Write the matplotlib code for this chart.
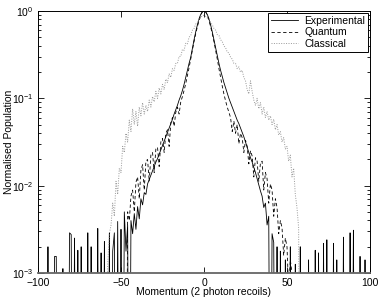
import numpy as np
import matplotlib
matplotlib.use("Agg")
import matplotlib.pyplot as plt

plt.rcParams['font.family'] = ['Liberation Sans', 'DejaVu Sans']
plt.rcParams['mathtext.fontset'] = 'custom'
plt.rcParams['mathtext.rm'] = 'Liberation Sans'
plt.rcParams['mathtext.it'] = 'Liberation Sans'

# ---------------- data (log10 of normalised population; -6 = empty bin) ----------------
Z = -6
exp_momentum = list(range(-100, 101))
exp_log_left_tail = [  # -100 .. -51
    Z, Z, Z, Z, Z, Z, -2.70, Z, Z, Z,
    -2.81, -2.81, Z, Z, Z, -2.95, Z, Z, Z, -2.54,
    -2.56, Z, -2.60, Z, -2.74, Z, -2.70, Z, Z, Z,
    -2.54, Z, -2.70, Z, Z, Z, -2.49, Z, -2.77, Z,
    -2.64, Z, Z, -2.54, Z, -2.75, -2.54, Z, -2.41, Z]
exp_log_left = [  # -50 .. -1
    -2.50, Z, -2.30, -2.75, -2.45, Z, -2.40, -2.55, -2.32, -2.50,
    -2.24, -2.38, -2.15, -2.22, -2.08, -2.10, -1.98, -1.93, -1.88, -1.83,
    -1.78, -1.73, -1.69, -1.64, -1.59, -1.54, -1.49, -1.44, -1.39, -1.34,
    -1.29, -1.24, -1.18, -1.13, -1.08, -1.02, -0.97, -0.91, -0.84, -0.76,
    -0.68, -0.60, -0.53, -0.43, -0.33, -0.24, -0.16, -0.09, -0.04, -0.01]
exp_log_centre = [0.0]
exp_log_right = [  # 1 .. 50
    -0.01, -0.04, -0.09, -0.16, -0.24, -0.33, -0.42, -0.51, -0.60, -0.68,
    -0.75, -0.82, -0.88, -0.94, -1.00, -1.05, -1.10, -1.15, -1.20, -1.25,
    -1.29, -1.34, -1.39, -1.44, -1.50, -1.56, -1.62, -1.68, -1.73, -1.79,
    -1.85, -1.92, -1.99, -2.06, -2.12, -2.25, -2.20, -2.45, -2.35, Z,
    -2.55, -2.65, Z, -2.70, Z, -2.75, Z, Z, -2.85, Z]
exp_log_right_tail = [  # 51 .. 100
    Z, -2.70, Z, Z, -2.90, Z, Z, -2.70, Z, Z,
    Z, Z, -2.85, Z, Z, Z, -2.74, Z, -2.77, Z,
    Z, -2.66, Z, -2.62, Z, Z, Z, -2.66, Z, -2.85,
    Z, Z, Z, -2.59, Z, Z, Z, -2.54, Z, -2.51,
    Z, Z, Z, -2.81, Z, Z, -2.85, Z, Z, Z]
exp_log = exp_log_left_tail + exp_log_left + exp_log_centre + exp_log_right + exp_log_right_tail

quant_momentum = list(range(-50, 57))
quant_log = [
    Z, Z, Z, Z, -2.30, -2.40, -2.12, -2.05, -2.30, -1.96,   # -50..-41
    -1.90, -2.15, -1.82, -1.76, -2.05, -1.72, -1.70, -1.95, -1.65, -1.62,  # -40..-31
    -1.85, -1.58, -1.56, -1.78, -1.50, -1.46, -1.62, -1.40, -1.36, -1.55,  # -30..-21
    -1.28, -1.22, -1.32, -1.16, -1.10, -1.18, -1.04, -0.98, -0.91, -0.83,  # -20..-11
    -0.74, -0.65, -0.55, -0.45, -0.35, -0.26, -0.18, -0.11, -0.05, -0.01,  # -10..-1
    0.0,                                                                    # 0
    -0.01, -0.05, -0.11, -0.18, -0.26, -0.35, -0.45, -0.55, -0.66, -0.76,  # 1..10
    -0.86, -0.95, -1.03, -1.10, -1.16, -1.22, -1.38, -1.26, -1.40, -1.30,  # 11..20
    -1.52, -1.40, -1.45, -1.62, -1.48, -1.55, -1.75, -1.60, -1.66, -1.90,  # 21..30
    -1.68, -1.72, -1.95, -1.74, -1.72, -2.05, -1.85, -1.92, -2.20, -1.98,  # 31..40
    -2.05, -2.35, -2.15, -2.25, -2.55, -2.40, -2.48, -2.80, -2.60, -2.70,  # 41..50
    -3.20, -2.85, -3.00, Z, Z, Z]                                           # 51..56

class_momentum = list(range(-60, 61))
class_log = [
    Z, Z, -2.90, -2.55, -2.45, -2.20, -2.35, -1.95, -2.10, -1.80,   # -60..-51
    -1.85, -1.55, -1.62, -1.40, -1.50, -1.25, -1.38, -1.12, -1.30, -1.15,  # -50..-41
    -1.32, -1.10, -1.20, -1.05, -1.18, -1.08, -1.15, -1.02, -1.10, -0.98,  # -40..-31
    -1.04, -0.92, -1.00, -0.88, -0.95, -0.84, -0.90, -0.78, -0.82, -0.72,  # -30..-21
    -0.76, -0.66, -0.68, -0.60, -0.60, -0.52, -0.52, -0.44, -0.45, -0.37,  # -20..-11
    -0.38, -0.30, -0.28, -0.22, -0.20, -0.15, -0.13, -0.09, -0.08, -0.05,  # -10..-1
    -0.05,                                                                  # 0
    -0.06, -0.08, -0.10, -0.13, -0.16, -0.20, -0.22, -0.27, -0.28, -0.33,  # 1..10
    -0.35, -0.40, -0.42, -0.47, -0.48, -0.53, -0.55, -0.60, -0.60, -0.66,  # 11..20
    -0.64, -0.70, -0.68, -0.76, -0.80, -0.90, -0.95, -0.80, -0.92, -1.02,  # 21..30
    -1.08, -1.00, -1.12, -1.05, -1.18, -1.10, -1.22, -1.15, -1.25, -1.20,  # 31..40
    -1.30, -1.24, -1.36, -1.30, -1.42, -1.38, -1.50, -1.45, -1.58, -1.55,  # 41..50
    -1.72, -1.65, -1.90, -1.80, -2.10, -2.25, -2.48, Z, Z, Z]               # 51..60

x_ticks = [-100, -50, 0, 50, 100]
x_label = "Momentum (2 photon recoils)"
y_label = "Normalised Population"
legend_labels = ["Experimental", "Quantum", "Classical"]

# ---------------- figure ----------------
fig = plt.figure(figsize=(3.81, 3.00), dpi=100)
ax = fig.add_axes([38/381, 1-273/300, (370-38)/381, (273-11)/300])

ax.plot(exp_momentum, 10**np.array(exp_log), color='black', lw=0.6, ls='-',
        label=legend_labels[0])
ax.plot(quant_momentum, 10**np.array(quant_log), color='black', lw=0.6,
        ls=(0, (4, 3)), label=legend_labels[1])
ax.plot(class_momentum, 10**np.array(class_log), color='#999999', lw=0.7,
        ls=(0, (1, 1.5)), label=legend_labels[2])

ax.set_yscale('log')
ax.set_xlim(-100, 100)
ax.set_ylim(1e-3, 1)
ax.set_xticks(x_ticks)
ax.set_xticklabels(["\u2212100", "\u221250", "0", "50", "100"])
ax.tick_params(which='both', direction='in', top=True, right=True,
               labelsize=7.5, width=0.6)
ax.tick_params(axis='x', pad=3.5)
ax.tick_params(axis='y', pad=3)
ax.tick_params(which='major', length=4)
ax.tick_params(which='minor', length=2)
for s in ax.spines.values():
    s.set_linewidth(0.7)
ax.spines['bottom'].set_linewidth(1.3)
ax.spines['bottom'].set_color('#666666')

ax.set_xlabel(x_label, fontsize=7.5)
ax.set_ylabel(y_label, fontsize=7.5)
ax.xaxis.set_label_coords(0.5, (273 - 292) / 262, transform=ax.transAxes)
ax.yaxis.set_label_coords((9 - 38) / 332, 0.5, transform=ax.transAxes)
ax.xaxis.label.set_va('center')
ax.yaxis.label.set_va('center')

leg = ax.legend(loc='upper right', fontsize=7.5, frameon=True, fancybox=False,
                edgecolor='black', framealpha=1, borderaxespad=0.15,
                handlelength=2.6, handletextpad=0.6, borderpad=0.3,
                labelspacing=0.15)
leg.get_frame().set_linewidth(0.7)

fig.savefig("out.png", dpi=100)
